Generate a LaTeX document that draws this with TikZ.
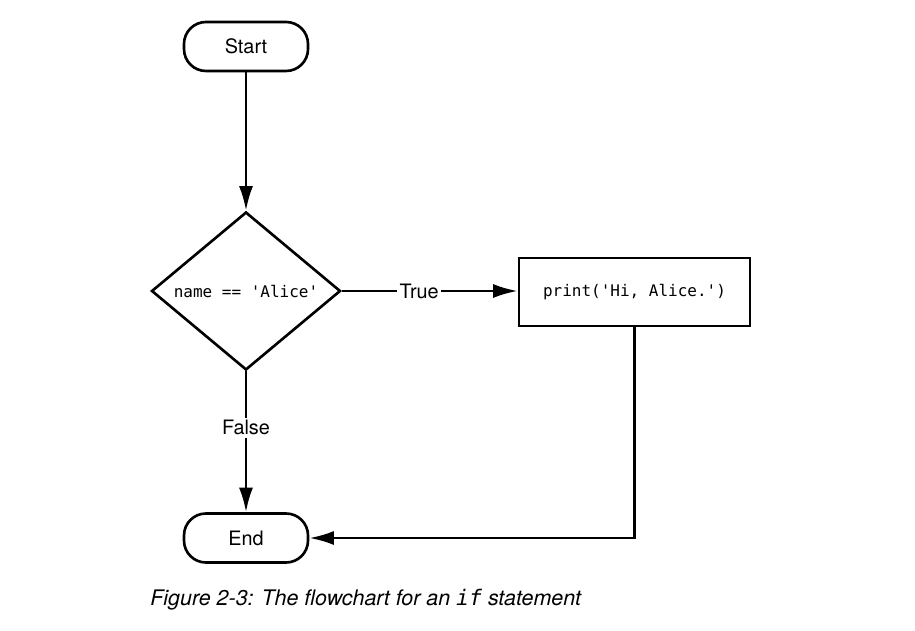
\documentclass[tikz,border=0pt]{standalone}
\usepackage{fontspec}
\setmainfont{TeX Gyre Heros}
\setmonofont{DejaVu Sans Mono}
\usetikzlibrary{arrows.meta,shapes.geometric,positioning}

\tikzset{
  terminal/.style={
    draw, line width=1.5pt, rounded corners=12.5pt,
    minimum width=124*0.02cm, minimum height=49*0.02cm,
    font=\fontsize{11.3}{13}\selectfont
  },
  decision/.style={
    draw, diamond, line width=1.5pt, inner sep=0pt,
    minimum width=189*0.02cm, minimum height=158*0.02cm,
    font=\ttfamily\fontsize{9.1}{10}\selectfont
  },
  process/.style={
    draw, rectangle, line width=1.5pt,
    minimum width=231*0.02cm, minimum height=68*0.02cm,
    font=\ttfamily\fontsize{9.1}{10}\selectfont
  },
  flow/.style={
    line width=1.5pt, -{Latex[length=14pt,width=8pt]}
  },
  edge label/.style={
    fill=white, inner sep=1.5pt, font=\fontsize{11.3}{13}\selectfont
  }
}

\begin{document}
\begin{tikzpicture}[x=0.02cm,y=-0.02cm]
  \useasboundingbox (0,0) rectangle (915,631);

  \node (start) [terminal] at (246,46.5) {Start};
  \node (test) [decision] at (246,291) {name == 'Alice'};
  \node (greet) [process] at (634.5,292) {print('Hi, Alice.')};
  \node (end) [terminal] at (246,538) {End};

  \draw[flow] (start.south) -- (test.north);
  \draw[flow] (test.east) -- (greet.west |- test.east)
    node[edge label, pos=0.44] (true_label) {True};
  \draw[flow] (test.south) -- (end.north)
    node[edge label, pos=0.4] (false_label) {False};
  \draw[flow] (greet.south) |- (end.east);

  % caption
  \node (caption) [anchor=west, inner sep=0pt,
    font=\itshape\fontsize{12.2}{14}\selectfont] at (150,600)
    {Figure 2-3: The flowchart for an \texttt{if} statement};
\end{tikzpicture}
\end{document}
